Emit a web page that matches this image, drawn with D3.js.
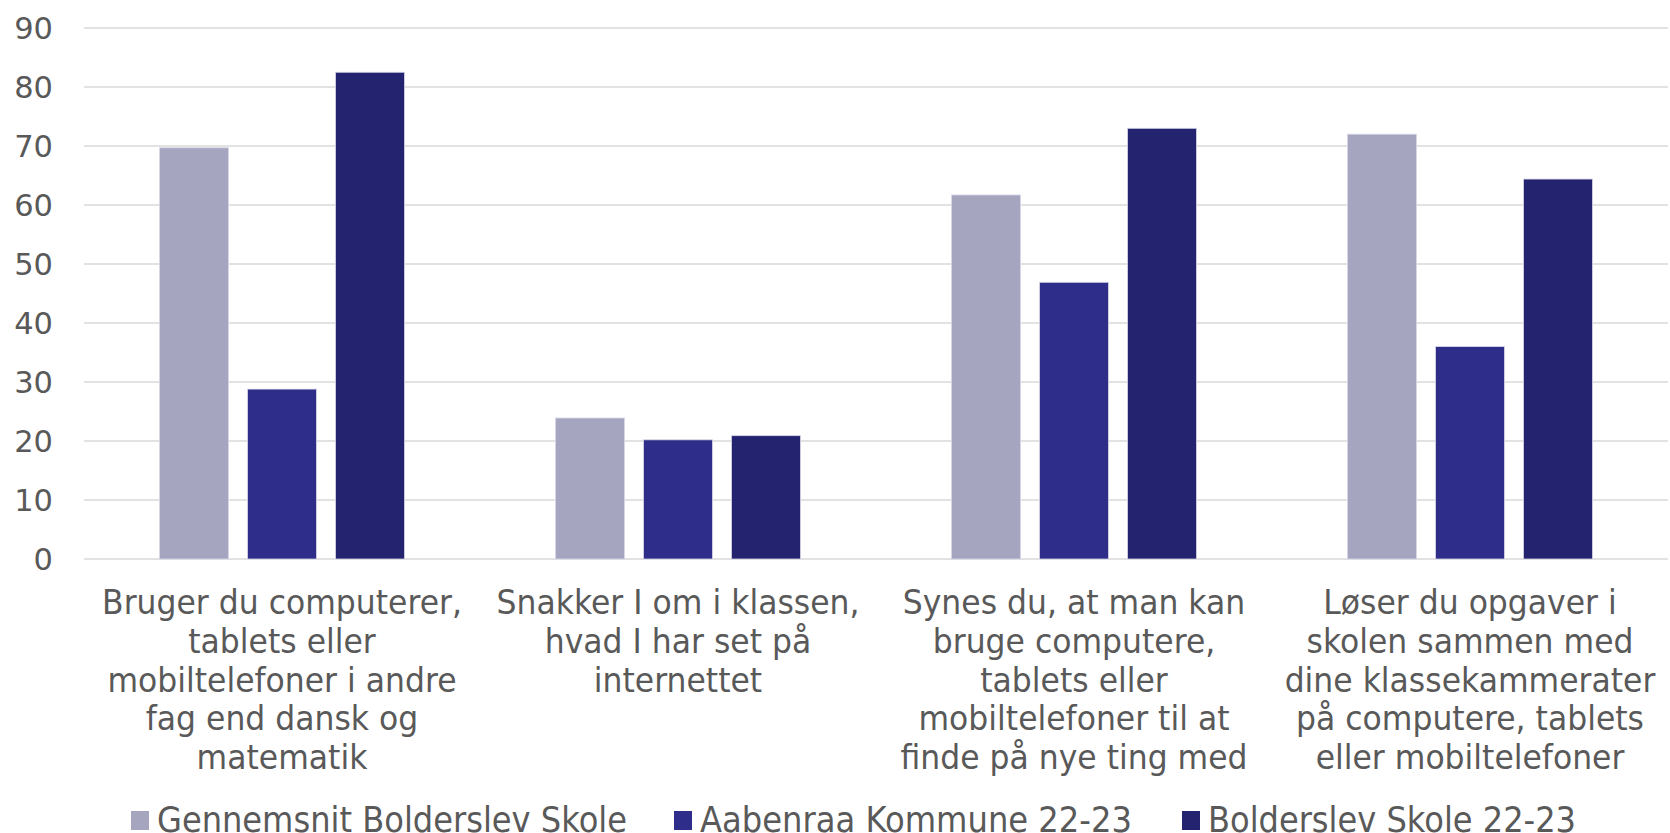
<!DOCTYPE html>
<html><head><meta charset="utf-8">
<script src="https://cdn.jsdelivr.net/npm/d3@7"></script>
<style>html,body{margin:0;padding:0;background:#fff;overflow:hidden}</style>
</head><body>
<svg id="chart" width="1670" height="833"></svg>
<script>
const categories = [
  ["Bruger du computerer,", "tablets eller", "mobiltelefoner i andre", "fag end dansk og", "matematik"],
  ["Snakker I om i klassen,", "hvad I har set på", "internettet"],
  ["Synes du, at man kan", "bruge computere,", "tablets eller", "mobiltelefoner til at", "finde på nye ting med"],
  ["Løser du opgaver i", "skolen sammen med", "dine klassekammerater", "på computere, tablets", "eller mobiltelefoner"]
];
const seriesNames = ["Gennemsnit Bolderslev Skole", "Aabenraa Kommune 22-23", "Bolderslev Skole 22-23"];
const gennemsnit = [69.7, 23.9, 61.7, 72.0];
const aabenraa = [28.8, 20.2, 46.9, 36.0];
const bolderslev = [82.5, 20.9, 73.0, 64.4];
const yTicks = [0, 10, 20, 30, 40, 50, 60, 70, 80, 90];
const colors = ["#A5A5C0", "#2E2E8A", "#24236F"];

(function () {
const seriesValues = [gennemsnit, aabenraa, bolderslev];
const svg = d3.select("#chart");
const font = "'DejaVu Sans', Verdana, sans-serif";
const textColor = "#595959";

const pLeft = 84, pRight = 1668, pTop = 28, pBottom = 559;
const catIdx = d3.range(categories.length);
const x0 = d3.scaleBand().domain(catIdx).range([pLeft, pRight]).padding(0);
const x1 = d3.scaleBand().domain(d3.range(seriesNames.length)).range([0, x0.bandwidth()])
  .paddingInner(0.216).paddingOuter(0.858);
const y = d3.scaleLinear().domain([0, 90]).range([pBottom, pTop]);

svg.append("g").selectAll("line").data(yTicks).join("line")
  .attr("x1", pLeft).attr("x2", pRight)
  .attr("y1", d => y(d)).attr("y2", d => y(d))
  .attr("stroke", "#D9D9D9").attr("stroke-width", 1.5);

const yAxis = d3.axisLeft(y).tickValues(yTicks).tickSize(0).tickPadding(0);
const ya = svg.append("g").attr("transform", "translate(53,0)").call(yAxis);
ya.select(".domain").remove();
ya.selectAll("text").attr("font-family", font).attr("font-size", 30.5).attr("fill", textColor)
  .attr("dy", "0.36em");

const groups = svg.append("g").selectAll("g").data(catIdx).join("g")
  .attr("transform", d => `translate(${x0(d)},0)`);
groups.selectAll("rect").data(c => seriesValues.map((s, i) => ({i, v: s[c]}))).join("rect")
  .attr("x", d => x1(d.i)).attr("width", x1.bandwidth())
  .attr("y", d => y(d.v)).attr("height", d => y(0) - y(d.v))
  .attr("fill", d => colors[d.i])
  .attr("stroke", "#D8D8E8").attr("stroke-width", 0.8);

// category labels, slightly condensed to match reference glyph widths
const labSize = 33.5;
const lab = svg.append("g").selectAll("text").data(catIdx).join("text")
  .attr("text-anchor", "middle")
  .attr("font-family", font).attr("font-size", labSize).attr("fill", textColor);
lab.selectAll("tspan").data(d => categories[d]).join("tspan")
  .attr("x", 0)
  .attr("y", (d, i) => 614 + i * 38.8)
  .text(d => d);
const refW = lab.select("tspan").node().getComputedTextLength();
const k = 360 / refW;
lab.attr("transform", d => `translate(${x0(d) + x0.bandwidth() / 2},0) scale(${k},1)`);

const legX = [131, 674, 1182];
const legW = [470, 432, 368];
const leg = svg.append("g").selectAll("g").data(seriesNames).join("g")
  .attr("transform", (d, i) => `translate(${legX[i]},0)`);
leg.append("rect").attr("x", 0).attr("y", 811).attr("width", 18).attr("height", 19)
  .attr("fill", (d, i) => colors[i]);
leg.append("text").attr("x", 26).attr("y", 832)
  .attr("font-family", font).attr("font-size", 35).attr("fill", textColor)
  .attr("textLength", (d, i) => legW[i]).attr("lengthAdjust", "spacingAndGlyphs")
  .text(d => d);
})();
</script>
</body></html>
